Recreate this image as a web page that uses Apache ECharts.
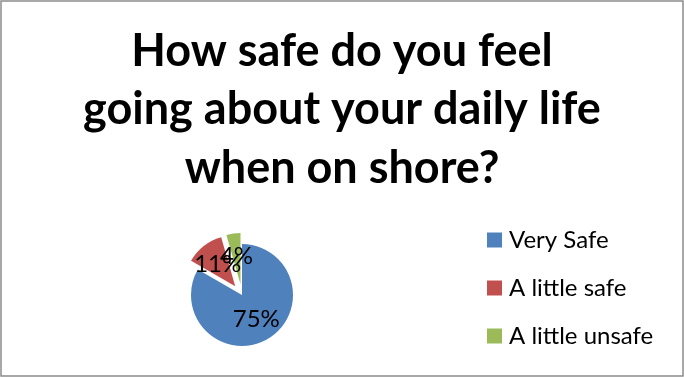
<!DOCTYPE html>
<html>
<head>
<meta charset="utf-8">
<script src="https://cdn.jsdelivr.net/npm/echarts@6/dist/echarts.min.js"></script>
<style>
html,body{margin:0;padding:0;background:#fff;}
#c{width:684px;height:377px;}
</style>
</head>
<body>
<div id="c"></div>
<script>
const titleText = 'How safe do you feel\ngoing about your daily life\nwhen on shore?';
const categories = ['Very Safe', 'A little safe', 'A little unsafe'];
const values = [75, 11, 4];
const exploded = [false, true, true];
const colors = ['#4F81BD', '#C0504D', '#9BBB59'];

const chart = echarts.init(document.getElementById('c'));
chart.setOption({
  animation: false,
  title: {
    text: titleText,
    left: 'center',
    top: 17,
    textStyle: {
      fontFamily: 'Lato',
      fontWeight: 'bold',
      fontSize: 45,
      lineHeight: 58.5,
      color: '#000'
    }
  },
  graphic: [{
    type: 'rect',
    shape: { x: 1, y: 1, width: 682, height: 375 },
    style: { fill: 'none', stroke: '#8c8c8c', lineWidth: 1.5 },
    silent: true
  }],
  legend: {
    orient: 'vertical',
    left: 487,
    top: 226,
    padding: 0,
    icon: 'rect',
    itemWidth: 15,
    itemHeight: 15,
    itemGap: 20,
    selectedMode: false,
    textStyle: { fontFamily: 'Lato', fontSize: 24, lineHeight: 28, color: '#000', padding: [0, 0, 0, 2] },
    data: categories
  },
  series: [{
    type: 'pie',
    center: [242, 295],
    radius: 51,
    startAngle: 90,
    clockwise: true,
    selectedMode: 'multiple',
    selectedOffset: 11,
    avoidLabelOverlap: false,
    minShowLabelAngle: 0,
    labelLayout: { hideOverlap: false },
    emphasis: { disabled: true },
    label: {
      show: true,
      position: 'inside',
      formatter: '{c}%',
      fontFamily: 'Lato',
      fontSize: 24,
      color: '#000'
    },
    labelLine: { show: false },
    itemStyle: { borderWidth: 0 },
    data: categories.map((n, i) => ({
      name: n,
      value: values[i],
      selected: exploded[i],
      itemStyle: { color: colors[i] }
    }))
  }]
});
</script>
</body>
</html>
